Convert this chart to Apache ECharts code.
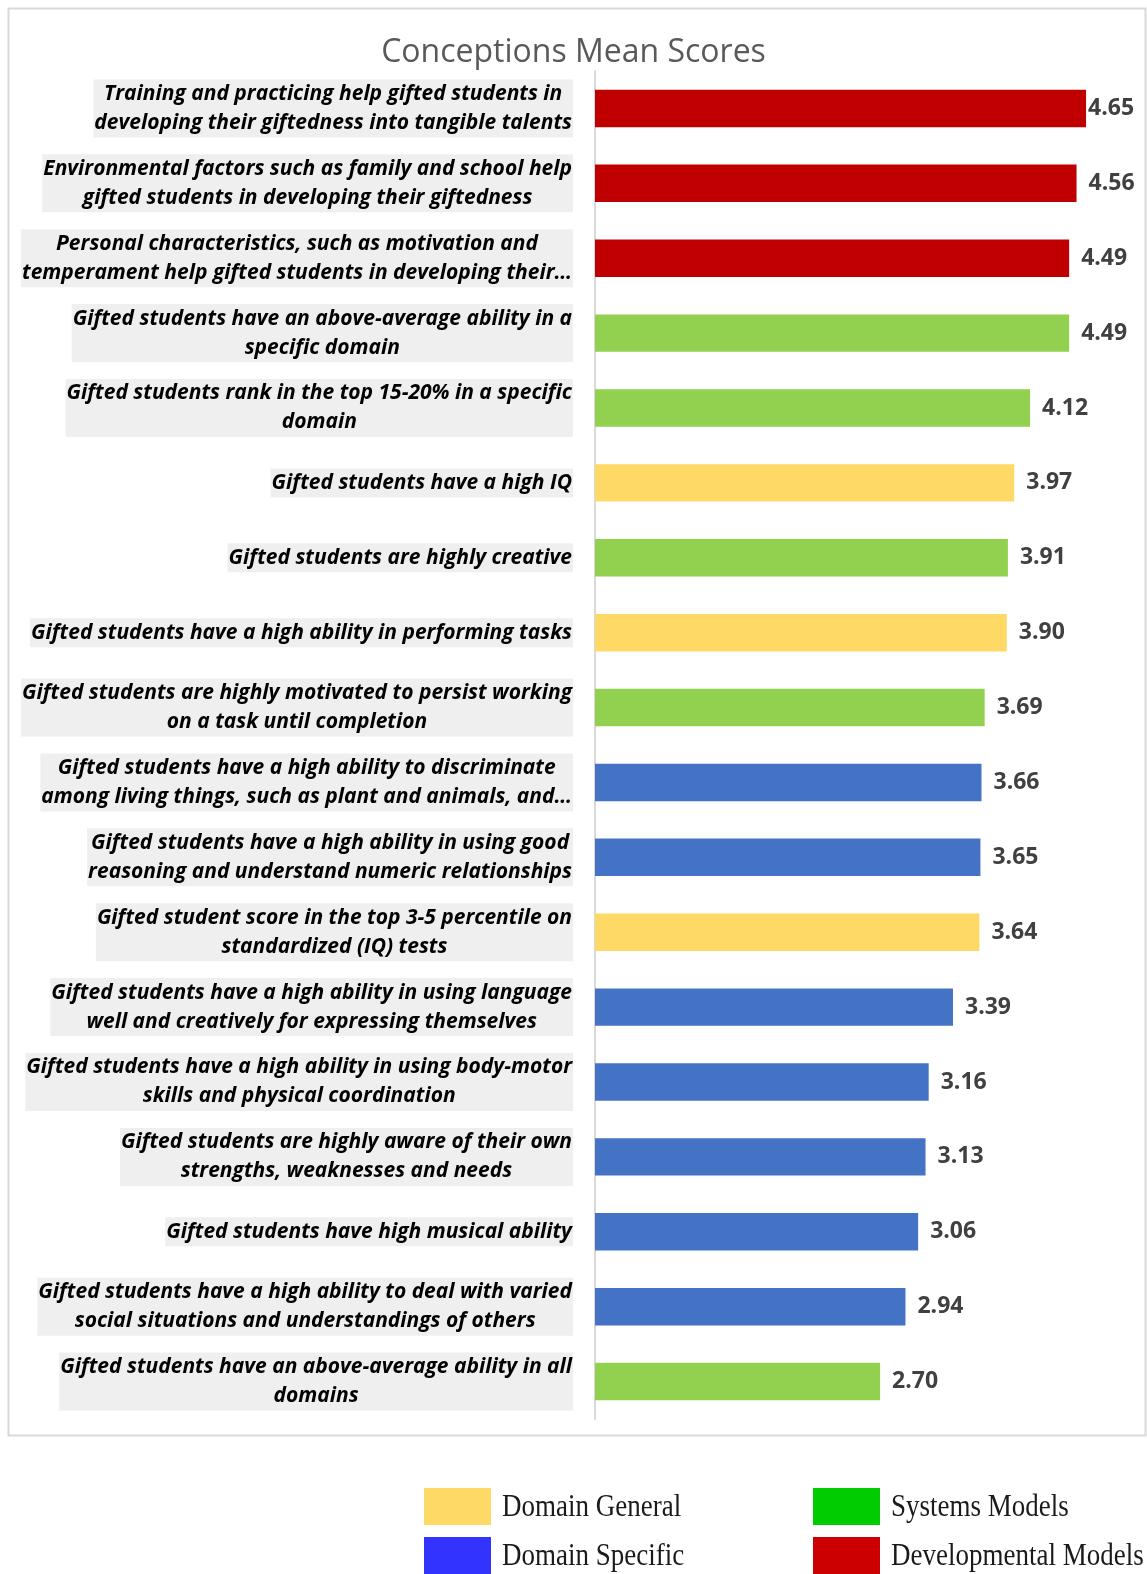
<!DOCTYPE html>
<html>
<head>
<meta charset="utf-8">
<script src="https://cdn.jsdelivr.net/npm/echarts@6/dist/echarts.min.js"></script>
<style>
html,body{margin:0;padding:0;background:#fff;}
#chart{width:1147px;height:1574px;}
</style>
</head>
<body>
<div id="chart"></div>
<script>
const categories = [
  "Training and practicing help gifted students in\ndeveloping their giftedness into tangible talents",
  "Environmental factors such as family and school help\ngifted students in developing their giftedness",
  "Personal characteristics, such as motivation and\ntemperament help gifted students in developing their…",
  "Gifted students have an above-average ability in a\nspecific domain",
  "Gifted students rank in the top 15-20% in a specific\ndomain",
  "Gifted students have a high IQ",
  "Gifted students are highly creative",
  "Gifted students have a high ability in performing tasks",
  "Gifted students are highly motivated to persist working\non a task until completion",
  "Gifted students have a high ability to discriminate\namong living things, such as plant and animals, and…",
  "Gifted students have a high ability in using good\nreasoning and understand numeric relationships",
  "Gifted student score in the top 3-5 percentile on\nstandardized (IQ) tests",
  "Gifted students have a high ability in using language\nwell and creatively for expressing themselves",
  "Gifted students have a high ability in using body-motor\nskills and physical coordination",
  "Gifted students are highly aware of their own\nstrengths, weaknesses and needs",
  "Gifted students have high musical ability",
  "Gifted students have a high ability to deal with varied\nsocial situations and understandings of others",
  "Gifted students have an above-average ability in all\ndomains"
];
const scores = [4.65, 4.56, 4.49, 4.49, 4.12, 3.97, 3.91, 3.90, 3.69, 3.66, 3.65, 3.64, 3.39, 3.16, 3.13, 3.06, 2.94, 2.70];
const groups = ["dev","dev","dev","sys","sys","gen","sys","gen","sys","spec","spec","gen","spec","spec","spec","spec","spec","sys"];
const barColors = {gen:"#FFD966", spec:"#4472C4", sys:"#92D050", dev:"#C00000"};
const legendNames = ["Domain General","Domain Specific","Systems Models","Developmental Models"];
const legendColors = ["#FFD966","#3333FF","#00CC00","#CC0000"];

const chart = echarts.init(document.getElementById('chart'), null, {renderer:'canvas'});

const seriesData = scores.map((v,i)=>{
  const d = {value:v, itemStyle:{color:barColors[groups[i]]}};
  if (i===0) d.label = {distance:2};
  return d;
});

const legendPos = [[424,1488],[424,1537],[813,1488],[813,1537]];
const graphics = [
  {type:'rect', left:6, top:6, shape:{width:1137, height:1427}, style:{fill:'none', stroke:'#d9d9d9', lineWidth:2}, silent:true}
];
legendNames.forEach((n,i)=>{
  const p = legendPos[i];
  graphics.push({type:'rect', x:p[0], y:p[1], shape:{width:67, height:37}, style:{fill:legendColors[i]}});
  graphics.push({type:'text', x:p[0]+78, y:p[1]+19, scaleY:1.2,
    style:{text:n, fill:'#1a1a1a', font:'27px "Liberation Serif", serif', textVerticalAlign:'middle', textAlign:'left'}});
});

chart.setOption({
  backgroundColor:'#fff',
  animation:false,
  title:{
    text:'Conceptions Mean Scores', left:'center', top:32,
    textStyle:{fontFamily:'Open Sans', fontWeight:'normal', fontSize:32, color:'#595959'}
  },
  grid:{left:595, right:24, top:71, height:1348},
  xAxis:{type:'value', min:0, max:5, show:false, splitLine:{show:false}},
  yAxis:{
    type:'category', inverse:true, data:categories,
    axisLine:{show:true, lineStyle:{color:'#d9d9d9', width:2}},
    axisTick:{show:false},
    axisLabel:{
      margin:22, align:'right', backgroundColor:'#efefef', padding:[0,1,0,1],
      formatter:(v)=>v.split('\n').map(s=>'{a|'+s+'}').join('\n'),
      rich:{a:{fontFamily:'Open Sans', fontStyle:'italic', fontWeight:'bold', fontSize:21, color:'#000', lineHeight:29, align:'center'}}
    }
  },
  series:[{
    type:'bar', data:seriesData, barWidth:'50%',
    label:{show:true, position:'right', distance:12, fontFamily:'Open Sans', fontWeight:'bold', fontSize:23, color:'#404040',
      formatter:(p)=>p.value.toFixed(2)}
  }],
  graphic:graphics
});
</script>
</body>
</html>
